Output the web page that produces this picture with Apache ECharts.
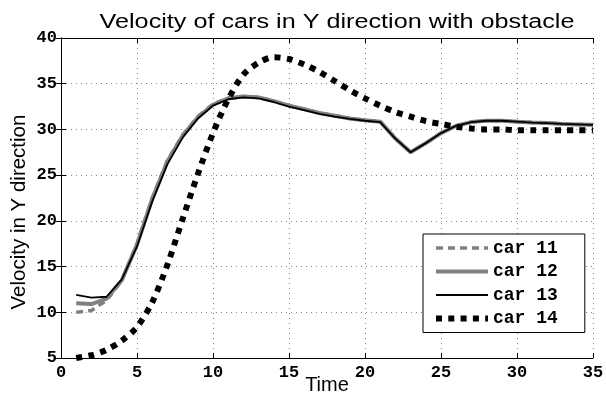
<!DOCTYPE html>
<html>
<head>
<meta charset="utf-8">
<script src="https://cdn.jsdelivr.net/npm/echarts@6/dist/echarts.min.js"></script>
<style>html,body{margin:0;padding:0;background:#fff;}#chart{width:606px;height:400px;}</style>
</head>
<body>
<div id="chart"></div>
<script>
var titleText = 'Velocity of cars in Y direction with obstacle';
var xName = 'Time';
var yName = 'Velocity in Y direction';
var seriesNames = ['car 11', 'car 12', 'car 13', 'car 14'];
var timeSteps = [1,2,3,4,5,6,7,8,9,10,11,12,13,14,15,16,17,18,19,20,21,22,23,24,25,26,27,28,29,30,31,32,33,34,35];
var car11 = [10.0,10.2,11.3,13.5,17.5,22.5,26.6,29.4,31.4,32.8,33.4,33.6,33.5,33.1,32.6,32.2,31.8,31.5,31.2,31.0,30.85,29.0,27.5,28.5,29.6,30.4,30.8,30.95,30.95,30.85,30.75,30.7,30.6,30.55,30.5];
var car12 = [11.0,10.9,11.5,13.5,17.4,22.4,26.5,29.3,31.3,32.7,33.4,33.6,33.5,33.1,32.6,32.2,31.8,31.5,31.2,31.0,30.85,29.0,27.5,28.5,29.6,30.4,30.8,30.95,30.95,30.85,30.75,30.7,30.6,30.55,30.5];
var car13 = [11.9,11.6,11.7,13.6,17.2,22.1,26.2,29.1,31.2,32.6,33.3,33.5,33.4,33.0,32.5,32.1,31.7,31.4,31.15,30.95,30.8,29.0,27.5,28.5,29.6,30.4,30.8,30.95,30.95,30.85,30.75,30.7,30.6,30.55,30.5];
var car14 = [5.0,5.3,5.9,6.9,8.4,11.1,15.2,20.2,25.1,29.6,33.3,36.0,37.3,37.9,37.7,37.1,36.3,35.3,34.3,33.4,32.6,31.9,31.4,30.9,30.6,30.3,30.1,30.0,30.0,29.9,29.9,29.9,29.9,29.9,29.9];
var xMin = 0, xMax = 35, xStep = 5;
var yMin = 5, yMax = 40, yStep = 5;

function pairs(ys){ return timeSteps.map(function(t,i){ return [t, ys[i]]; }); }

var lineStyles = [
  {color:'#808080', width:3.5, type:[7,5], cap:'butt'},
  {color:'#808080', width:4, type:'solid'},
  {color:'#000', width:1.8, type:'solid'},
  {color:'#000', width:6, type:[6,6.3], cap:'butt'}
];

var tickFont = {fontFamily:'Liberation Mono', fontWeight:'bold', fontSize:17, color:'#000'};
var chart = echarts.init(document.getElementById('chart'));
chart.setOption({
  animation:false,
  backgroundColor:'#fff',
  graphic:[{type:'text', x:337, y:12, scaleX:1.26, scaleY:1, z:100,
    style:{text:titleText, font:'normal 20px "Liberation Sans"', fill:'#000', textAlign:'center', textVerticalAlign:'top'}}],
  grid:{left:61, right:13, top:38, bottom:42, containLabel:false, outerBoundsMode:'none'},
  legend:{orient:'vertical', left:423, top:234, padding:[5,27,5,10], itemGap:5.5,
    itemWidth:52, itemHeight:14, backgroundColor:'#fff', borderColor:'#000', borderWidth:1, borderRadius:0,
    itemStyle:{color:'transparent', borderWidth:0, opacity:0},
    textStyle:{fontFamily:'Liberation Mono', fontWeight:'bold', fontSize:18, color:'#000', lineHeight:18},
    data:seriesNames.map(function(n,i){ return {name:n, lineStyle:{width:lineStyles[i].width}}; })},
  xAxis:[{type:'value', min:xMin, max:xMax, interval:xStep, position:'bottom',
    name:xName, nameLocation:'middle', nameGap:17, nameMoveOverlap:false,
    nameTextStyle:{fontFamily:'Liberation Sans', fontSize:20, color:'#000'},
    axisLine:{lineStyle:{color:'#000', width:1}},
    axisTick:{inside:true, length:5, lineStyle:{color:'#000'}},
    axisLabel:Object.assign({margin:6}, tickFont),
    splitLine:{show:true, lineStyle:{color:'#888', type:[1,4], width:1}}},
   {type:'value', min:xMin, max:xMax, interval:xStep, position:'top',
    axisLine:{lineStyle:{color:'#000', width:1}},
    axisTick:{inside:true, length:5, lineStyle:{color:'#000'}},
    axisLabel:{show:false}, splitLine:{show:false}}],
  yAxis:[{type:'value', min:yMin, max:yMax, interval:yStep, position:'left',
    name:yName, nameLocation:'middle', nameGap:31, nameMoveOverlap:false,
    nameTextStyle:{fontFamily:'Liberation Sans', fontSize:20.5, color:'#000', padding:[0,28,0,0]},
    axisLine:{show:true, lineStyle:{color:'#000', width:1}},
    axisTick:{show:true, inside:true, length:5, lineStyle:{color:'#000'}},
    axisLabel:Object.assign({margin:4}, tickFont),
    splitLine:{show:true, lineStyle:{color:'#888', type:[1,4], width:1}}},
   {type:'value', min:yMin, max:yMax, interval:yStep, position:'right',
    axisLine:{show:true, lineStyle:{color:'#000', width:1}},
    axisTick:{show:true, inside:true, length:5, lineStyle:{color:'#000'}},
    axisLabel:{show:false}, splitLine:{show:false}}],
  series:[
    {name:seriesNames[0], type:'line', data:pairs(car11), symbol:'none', z:2,
     lineStyle:lineStyles[0], itemStyle:{color:'#808080'}},
    {name:seriesNames[1], type:'line', data:pairs(car12), symbol:'none', z:3,
     lineStyle:lineStyles[1], itemStyle:{color:'#808080'}},
    {name:seriesNames[2], type:'line', data:pairs(car13), symbol:'none', z:4,
     lineStyle:lineStyles[2], itemStyle:{color:'#000'}},
    {name:seriesNames[3], type:'line', data:pairs(car14), symbol:'none', z:5, smooth:0.3,
     lineStyle:lineStyles[3], itemStyle:{color:'#000'}}
  ]
});
</script>
</body>
</html>
